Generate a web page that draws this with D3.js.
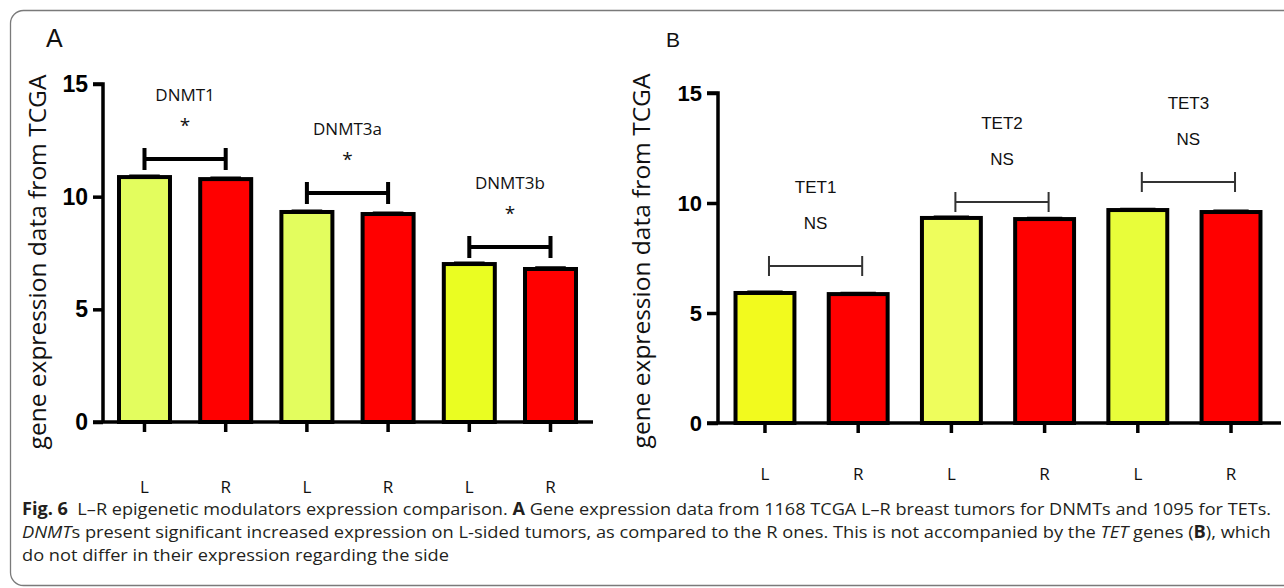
<!DOCTYPE html>
<html>
<head>
<meta charset="utf-8">
<script src="https://cdn.jsdelivr.net/npm/d3@7"></script>
<style>
  body { margin: 0; background: #fff; }
  svg { display: block; }
</style>
</head>
<body>
<div id="chart"></div>
<script>
// values (means, small SEM caps, bracket heights in data units)
const sides = ['L', 'R'];
const yTicks = [0, 5, 10, 15];

const genesA = ['DNMT1', 'DNMT3a', 'DNMT3b'];
const meanA_L = [10.87, 9.32, 7.01];
const meanA_R = [10.78, 9.23, 6.79];
const semA_L = [0.04, 0.03, 0.04];
const semA_R = [0.04, 0.03, 0.04];
const sigA = ['*', '*', '*'];
const bracketA = [11.67, 10.16, 7.77];

const genesB = ['TET1', 'TET2', 'TET3'];
const meanB_L = [5.91, 9.32, 9.68];
const meanB_R = [5.86, 9.27, 9.59];
const semB_L = [0.03, 0.03, 0.03];
const semB_R = [0.03, 0.03, 0.03];
const sigB = ['NS', 'NS', 'NS'];
const bracketB = [7.14, 10.05, 10.95];

const yTitle = 'gene expression data from TCGA';

// styles
const fillL = {
  DNMT1: '#e3fd5e', DNMT3a: '#e3fd5e', DNMT3b: '#eafd22',
  TET1: '#f2fa1e', TET2: '#eefd5c', TET3: '#e8fd3a',
};
const fillR = '#ff0000';

const W = 1284, H = 588;
const svg = d3.select('#chart').append('svg')
    .attr('width', W)
    .attr('height', H);

// caption box
svg.append('rect')
    .attr('x', 10.5)
    .attr('y', 10.5)
    .attr('width', 1300)
    .attr('height', 575)
    .attr('rx', 13)
    .attr('fill', 'none')
    .attr('stroke', '#7a7a7a')
    .attr('stroke-width', 1.3);

function rows(genes, meanL, meanR, semL, semR) {
  const out = [];
  genes.forEach((g, i) => {
    out.push({ gene: g, side: sides[0], key: g + '|L', v: meanL[i], e: semL[i] });
    out.push({ gene: g, side: sides[1], key: g + '|R', v: meanR[i], e: semR[i] });
  });
  return out;
}

function drawPanel(cfg) {
  const data = rows(cfg.genes, cfg.meanL, cfg.meanR, cfg.semL, cfg.semR);

  const x = d3.scaleBand()
      .domain(data.map((d) => d.key))
      .range([cfg.x0, cfg.x1])
      .paddingInner(cfg.padIn)
      .paddingOuter(cfg.padOut);

  const y = d3.scaleLinear()
      .domain([0, 15])
      .range([cfg.y0, cfg.y15]);

  const g = svg.append('g');

  // bars
  g.selectAll('rect.bar')
      .data(data)
    .enter().append('rect')
      .attr('class', 'bar')
      .attr('x', (d) => x(d.key))
      .attr('y', (d) => y(d.v))
      .attr('width', x.bandwidth())
      .attr('height', (d) => y(0) - y(d.v))
      .attr('fill', (d) => (d.side === 'L' ? fillL[d.gene] : fillR))
      .attr('stroke', '#000')
      .attr('stroke-width', cfg.barStroke);

  // SEM caps
  g.selectAll('path.err')
      .data(data)
    .enter().append('path')
      .attr('class', 'err')
      .attr('d', (d) => {
        const cx = x(d.key) + x.bandwidth() / 2;
        const hw = x.bandwidth() * 0.3;
        return `M${cx},${y(d.v)}V${y(d.v + d.e) - 1}M${cx - hw},${y(d.v + d.e) - 1}H${cx + hw}`;
      })
      .attr('stroke', '#000')
      .attr('stroke-width', 1.5)
      .attr('fill', 'none');

  // x axis
  const xAxis = d3.axisBottom(x)
      .tickSize(10)
      .tickSizeOuter(0)
      .tickFormat((d) => d.split('|')[1]);

  const gx = g.append('g')
      .attr('transform', `translate(0,${y(0)})`)
      .call(xAxis);
  gx.select('.domain').remove();
  gx.append('line')
      .attr('x1', cfg.x0 - cfg.tick)
      .attr('x2', cfg.xEnd)
      .attr('stroke', '#000')
      .attr('stroke-width', cfg.axisStroke);
  gx.selectAll('.tick line')
      .attr('stroke-width', cfg.axisStroke);
  gx.selectAll('.tick text')
      .attr('y', cfg.labelY)
      .attr('dy', 0)
      .style('font-family', '"Open Sans", sans-serif')
      .style('font-size', '17px')
      .attr('fill', '#111');

  // y axis
  const yAxis = d3.axisLeft(y)
      .tickValues(yTicks)
      .tickSize(cfg.tick)
      .tickSizeOuter(0)
      .tickPadding(5);

  const gy = g.append('g')
      .attr('transform', `translate(${cfg.x0},0)`)
      .call(yAxis);
  gy.select('.domain')
      .attr('stroke-width', cfg.axisStroke)
      .attr('d', `M0,${y(0)}V${y(15)}H${-cfg.tick}`);
  gy.selectAll('.tick line')
      .attr('stroke-width', cfg.axisStroke);
  gy.selectAll('.tick text')
      .style('font-family', '"Liberation Sans", Arial, sans-serif')
      .style('font-weight', 'bold')
      .style('font-size', cfg.tickFont + 'px')
      .attr('fill', '#000');

  // y title, sized to the length seen in the figure
  const t = g.append('text')
      .attr('transform', `translate(${cfg.titleX},${cfg.titleY}) rotate(-90)`)
      .attr('text-anchor', 'middle')
      .style('font-family', '"Open Sans", sans-serif')
      .style('font-size', '22px')
      .attr('fill', '#111')
      .text(yTitle);
  const tw = t.node().getComputedTextLength();
  t.style('font-size', (22 * cfg.titleLen / tw) + 'px');

  // significance brackets and labels
  cfg.genes.forEach((gene, i) => {
    const xl = x(gene + '|L') + x.bandwidth() / 2 + cfg.brShift;
    const xr = x(gene + '|R') + x.bandwidth() / 2 + cfg.brShift;
    const yb = y(cfg.bracket[i]);
    const cx = (xl + xr) / 2;

    g.append('path')
        .attr('d', `M${xl},${yb - cfg.brH}V${yb + cfg.brH}M${xl},${yb}H${xr}M${xr},${yb - cfg.brH}V${yb + cfg.brH}`)
        .attr('stroke', cfg.brColor)
        .attr('stroke-width', cfg.brStroke)
        .attr('fill', 'none');

    g.append('text')
        .attr('x', cx)
        .attr('y', yb - cfg.sigDy)
        .attr('text-anchor', 'middle')
        .style('font-family', cfg.annFont)
        .style('font-size', cfg.sigSize + 'px')
        .attr('fill', '#111')
        .text(cfg.sig[i]);

    g.append('text')
        .attr('x', cx)
        .attr('y', yb - cfg.nameDy)
        .attr('text-anchor', 'middle')
        .style('font-family', cfg.annFont)
        .style('font-size', '17px')
        .attr('fill', '#111')
        .text(gene);
  });

  // panel letter
  svg.append('text')
      .attr('x', cfg.letterX)
      .attr('y', 47)
      .style('font-family', '"Liberation Sans", Arial, sans-serif')
      .style('font-size', cfg.letterSize + 'px')
      .attr('fill', '#111')
      .text(cfg.letter);
}

drawPanel({
  letter: 'A', letterX: 46, letterSize: 25,
  genes: genesA, meanL: meanA_L, meanR: meanA_R, semL: semA_L, semR: semA_R,
  sig: sigA, bracket: bracketA,
  x0: 103, x1: 592, xEnd: 593, padIn: 0.372, padOut: 0.197,
  y0: 422, y15: 84, tick: 10, tickFont: 23,
  barStroke: 4, axisStroke: 3.5, labelY: 71,
  titleX: 46, titleY: 262, titleLen: 375,
  brShift: 0, brH: 11, brStroke: 4, brColor: '#000',
  sigDy: 27, sigSize: 19, nameDy: 58,
  annFont: '"Open Sans", sans-serif',
});

drawPanel({
  letter: 'B', letterX: 666, letterSize: 21,
  genes: genesB, meanL: meanB_L, meanR: meanB_R, semL: semB_L, semR: semB_R,
  sig: sigB, bracket: bracketB,
  x0: 718, x1: 1278, xEnd: 1281, padIn: 0.368, padOut: 0.188,
  y0: 423, y15: 93, tick: 11, tickFont: 22,
  barStroke: 4, axisStroke: 3.5, labelY: 57,
  titleX: 650, titleY: 261, titleLen: 375,
  brShift: 4, brH: 10, brStroke: 2, brColor: '#333',
  sigDy: 37, sigSize: 17, nameDy: 73,
  annFont: '"Liberation Sans", Arial, sans-serif',
});

// caption (justified: first two lines end at the same right edge)
const capX = 22;
const capRight = 1272;
const capLines = [
  [['Fig. 6', 'b'], ['  L–R epigenetic modulators expression comparison. ', ''], ['A', 'b'],
   [' Gene expression data from 1168 TCGA L–R breast tumors for DNMTs and 1095 for TETs.', '']],
  [['DNMT', 'i'], ['s present significant increased expression on L-sided tumors, as compared to the R ones. This is not accompanied by the ', ''],
   ['TET', 'i'], [' genes (', ''], ['B', 'b'], ['), which', '']],
  [['do not differ in their expression regarding the side', '']],
];
const capBase = [515, 538, 561];

const capTexts = capLines.map((parts, i) => {
  const t = svg.append('text')
      .attr('x', 0)
      .attr('y', capBase[i])
      .attr('xml:space', 'preserve')
      .style('white-space', 'pre')
      .style('font-family', '"Open Sans", sans-serif')
      .style('font-size', '17px')
      .attr('fill', '#231f20');
  parts.forEach(([s, f]) => {
    t.append('tspan')
        .style('font-weight', f === 'b' ? 'bold' : 'normal')
        .style('font-style', f === 'i' ? 'italic' : 'normal')
        .text(s);
  });
  return t;
});
const sx0 = (capRight - capX) / capTexts[0].node().getComputedTextLength();
const sx1 = (capRight - capX) / capTexts[1].node().getComputedTextLength();
[sx0, sx1, (sx0 + sx1) / 2].forEach((s, i) => {
  capTexts[i].attr('transform', `translate(${capX},0) scale(${s},1)`);
});
</script>
</body>
</html>
